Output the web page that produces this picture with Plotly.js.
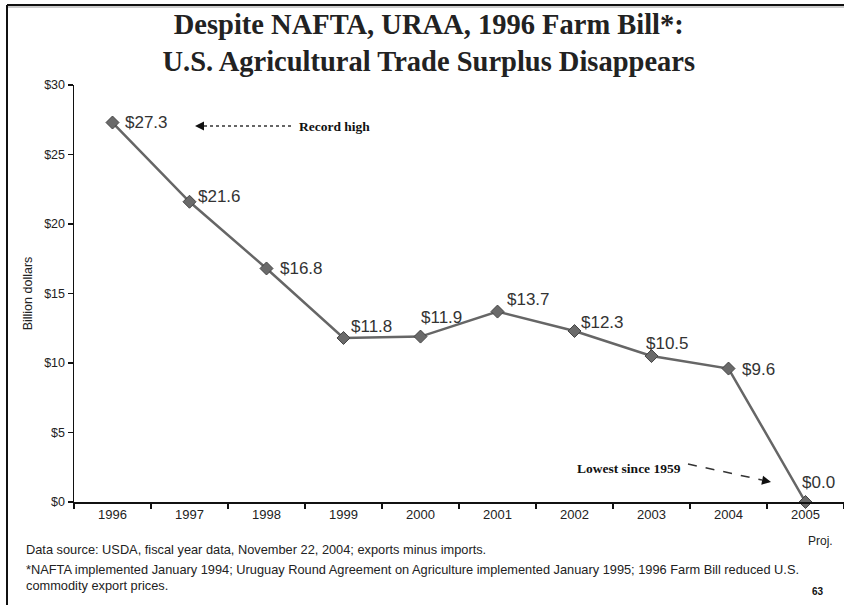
<!DOCTYPE html>
<html>
<head>
<meta charset="utf-8">
<script src="https://cdn.plot.ly/plotly-3.0.1.min.js"></script>
<style>html,body{margin:0;padding:0;background:#fff;}#chart{width:844px;height:605px;}</style>
</head>
<body>
<div id="chart"></div>
<script>
// ---- data ----
const years = ["1996","1997","1998","1999","2000","2001","2002","2003","2004","2005"];
const surplus = [27.3, 21.6, 16.8, 11.8, 11.9, 13.7, 12.3, 10.5, 9.6, 0.0];
const valueLabels = ["$27.3","$21.6","$16.8","$11.8","$11.9","$13.7","$12.3","$10.5","$9.6","$0.0"];
const yTickVals = [0, 5, 10, 15, 20, 25, 30];
const yTickText = ["$0","$5","$10","$15","$20","$25","$30"];

// ---- styling (label offsets in px) ----
const labelShiftX = [10, 6, 11, 5, -2, 7, 4, -8, 11, -6];
const labelShiftY = [0, 5, 0, 11, 19, 12, 9, 13, -1, 20];

const sans = "Liberation Sans, Arial, sans-serif";
const serif = "Liberation Serif, Times New Roman, serif";

const trace = {
  x: years, y: surplus, type: "scatter", mode: "lines+markers",
  line: {color: "#666666", width: 2.5},
  marker: {symbol: "diamond", size: 10, color: "#6a6a6a", line: {color: "#444", width: 1}},
  hoverinfo: "skip", cliponaxis: false
};

const annotations = years.map((yr, i) => ({
  x: i, y: surplus[i], xref: "x", yref: "y", text: valueLabels[i],
  showarrow: false, xanchor: "left", yanchor: "middle",
  xshift: labelShiftX[i], yshift: labelShiftY[i],
  font: {family: sans, size: 17, color: "#333"}
}));

// plot area pixel helpers for paper coords
const L = 74, R = 844, T = 85, B = 502;
const px = v => (v - L) / (R - L);
const py = v => (B - v) / (B - T);

annotations.push(
  {xref: "paper", yref: "paper", x: px(297), y: py(126), xanchor: "left", yanchor: "middle",
   text: "<b>Record high</b>", showarrow: false, font: {family: serif, size: 13.5, color: "#111"}},
  {xref: "paper", yref: "paper", x: px(195), y: py(126), ax: 10, ay: 0, axref: "pixel", ayref: "pixel",
   text: "", showarrow: true, arrowhead: 2, arrowsize: 1.2, arrowwidth: 1.5, arrowcolor: "#111"},
  {xref: "paper", yref: "paper", x: px(575), y: py(468), xanchor: "left", yanchor: "middle",
   text: "<b>Lowest since 1959</b>", showarrow: false, font: {family: serif, size: 13.5, color: "#111"}},
  {xref: "paper", yref: "paper", x: px(771), y: py(482), ax: -10, ay: -2, axref: "pixel", ayref: "pixel",
   text: "", showarrow: true, arrowhead: 2, arrowsize: 1.2, arrowwidth: 1.5, arrowcolor: "#111"},
  {xref: "paper", yref: "paper", x: px(835), y: py(541), xanchor: "right", yanchor: "middle",
   text: "Proj.", showarrow: false, font: {family: sans, size: 12, color: "#222"}},
  {xref: "paper", yref: "paper", x: px(24), y: py(549), xanchor: "left", yanchor: "middle",
   text: "Data source: USDA, fiscal year data, November 22, 2004; exports minus imports.",
   showarrow: false, font: {family: sans, size: 12.8, color: "#222"}},
  {xref: "paper", yref: "paper", x: px(24), y: py(569), xanchor: "left", yanchor: "middle",
   text: "*NAFTA implemented January 1994; Uruguay Round Agreement on Agriculture implemented January 1995; 1996 Farm Bill reduced U.S.",
   showarrow: false, font: {family: sans, size: 12.8, color: "#222"}},
  {xref: "paper", yref: "paper", x: px(24), y: py(585), xanchor: "left", yanchor: "middle",
   text: "commodity export prices.",
   showarrow: false, font: {family: sans, size: 12.8, color: "#222"}},
  {xref: "paper", yref: "paper", x: px(818), y: py(591), xanchor: "center", yanchor: "middle",
   text: "<b>63</b>", showarrow: false, font: {family: sans, size: 10, color: "#111"}}
);

const shapes = [
  {type: "line", xref: "paper", yref: "paper", x0: px(204), y0: py(126), x1: px(292), y1: py(126),
   line: {color: "#333", width: 1.5, dash: "dot"}},
  {type: "line", xref: "paper", yref: "paper", x0: px(688), y0: py(464), x1: px(762), y1: py(480),
   line: {color: "#333", width: 1.5, dash: "dash"}},
  // frame
  {type: "line", xref: "paper", yref: "paper", x0: px(7), y0: py(5), x1: px(844), y1: py(5),
   line: {color: "#111", width: 2}},
  {type: "line", xref: "paper", yref: "paper", x0: px(7), y0: py(5), x1: px(7), y1: py(605),
   line: {color: "#111", width: 2}},
  {type: "line", xref: "paper", yref: "paper", x0: px(8), y0: py(7), x1: px(844), y1: py(7),
   line: {color: "#999", width: 1}}
];

const layout = {
  width: 844, height: 605,
  margin: {l: L, r: 844 - R, t: T, b: 605 - B, pad: 0},
  paper_bgcolor: "#ffffff", plot_bgcolor: "#ffffff",
  showlegend: false,
  title: {
    text: "<b>Despite NAFTA, URAA, 1996 Farm Bill*:</b><br><b>U.S. Agricultural Trade Surplus Disappears</b>",
    font: {family: serif, size: 28.5, color: "#222"},
    x: 0.508, xanchor: "center", y: 0.944, yanchor: "top"
  },
  xaxis: {
    type: "category", tickson: "boundaries", ticks: "outside", ticklen: 5, tickwidth: 1.5, tickcolor: "#111",
    showline: true, linecolor: "#111", linewidth: 1.5, showgrid: false, zeroline: false,
    tickfont: {family: sans, size: 13, color: "#222"}, range: [-0.5, 9.5], fixedrange: true
  },
  yaxis: {
    range: [0, 30], tickvals: yTickVals, ticktext: yTickText,
    ticks: "outside", ticklen: 5, tickwidth: 1.5, tickcolor: "#111",
    showline: true, linecolor: "#111", linewidth: 1.5, showgrid: false, zeroline: false,
    tickfont: {family: sans, size: 12.5, color: "#222"},
    title: {text: "Billion dollars", font: {family: sans, size: 12.5, color: "#222"}, standoff: 9},
    fixedrange: true
  },
  annotations: annotations,
  shapes: shapes
};

Plotly.newPlot("chart", [trace], layout, {displayModeBar: false, staticPlot: true});
</script>
</body>
</html>
